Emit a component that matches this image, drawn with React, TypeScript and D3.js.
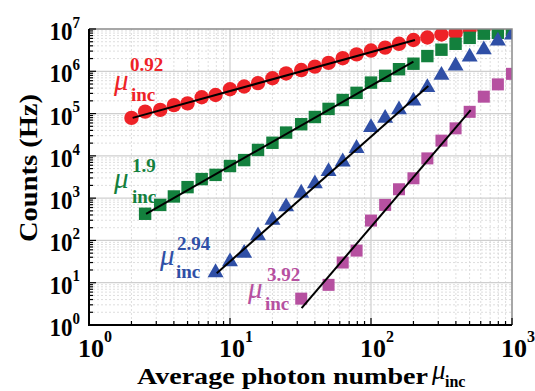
import * as d3 from 'd3';

// photon numbers at which the counts were sampled (0.1-decade steps)
const muValues = [2, 2.5, 3.2, 4, 5, 6.3, 7.9, 10, 12.6, 15.8, 20, 25, 32, 40, 50, 63, 79, 100, 126, 158, 200, 251, 316, 398, 501, 631, 794, 1000];

const redCounts = [7.9e4, 1.11e5, 1.22e5, 1.58e5, 1.74e5, 2.43e5, 2.75e5, 3.76e5, 4.37e5, 5.25e5, 6.84e5, 8.9e5, 1.07e6, 1.29e6, 1.58e6, 2.04e6, 2.51e6, 3.09e6, 3.63e6, 4.47e6, 5.5e6, 6.3e6, 7.4e6, 8.1e6, 9.8e6, 1.07e7, 1.15e7, 1.2e7];
const greenCounts = [427, 692, 1096, 1820, 2820, 3550, 5750, 7940, 1.38e4, 2.04e4, 3.55e4, 5.6e4, 8.3e4, 1.29e5, 2.09e5, 3.09e5, 5.4e5, 7.8e5, 1.12e6, 1.51e6, 2.29e6, 3.24e6, 4.47e6, 6.17e6, 7.76e6, 8.13e6, 9.5e6];
const blueCounts = [17.4, 31.6, 50, 129, 302, 631, 1318, 2190, 4270, 7240, 1.51e4, 4.68e4, 7.76e4, 1.23e5, 2.0e5, 4.17e5, 8.13e5, 1.35e6, 2.19e6, 3.24e6, 5.25e6, 7.24e6];
const magentaMu = [32, 50, 63, 79, 100, 126, 158, 200, 251, 316, 398, 501, 631, 794, 1000];
const magentaCounts = [4.2, 8.9, 30, 57.5, 295, 692, 1622, 2950, 8710, 2.29e4, 4.47e4, 1.1e5, 2.51e5, 4.9e5, 8.7e5];

// power-law fit end points [mu, counts]
const fitRed = [[2.04, 7.9e4], [205, 5.5e6]];
const fitGreen = [[2.54, 427], [200, 1.7e6]];
const fitBlue = [[8.05, 16.8], [255, 4.5e5]];
const fitMagenta = [[32.2, 2.5], [509, 1.2e5]];

const slopeLabels = ['0.92', '1.9', '2.94', '3.92'];
const xExps = [0, 1, 2, 3];
const yExps = [0, 1, 2, 3, 4, 5, 6, 7];

const RED = '#ee2227';
const GREEN = '#13803d';
const BLUE = '#2f4fa6';
const MAGENTA = '#b650a0';
const FONT = "'Liberation Serif', 'Times New Roman', serif";

export default function App() {
  const W = 535, H = 391;
  const L = 89, R = 512, T = 29, B = 325;

  const x = d3.scaleLog().domain([1, 1000]).range([L, R]);
  const y = d3.scaleLog().domain([1, 1e7]).range([B, T]);

  const isDecade = (v: number) => Math.abs(Math.log10(v) - Math.round(Math.log10(v))) < 1e-9;
  const xMinor = x.ticks().filter(v => !isDecade(v));
  const yMinor = y.ticks().filter(v => !isDecade(v));

  const line = d3.line<number[]>().x(d => x(d[0])).y(d => y(d[1]));
  const tri = d3.symbol().type(d3.symbolTriangle).size(110)() as string;

  // annotation anchors: mu glyph position, subscript/superscript
  const notes = [
    { color: RED, mx: 114, my: 90, ix: 131, iy: 101, sx: 130, sy: 71 },
    { color: GREEN, mx: 114, my: 188, ix: 132, iy: 203, sx: 132, sy: 172 },
    { color: BLUE, mx: 160, my: 265, ix: 176, iy: 278, sx: 177, sy: 250 },
    { color: MAGENTA, mx: 248, my: 298, ix: 265, iy: 310, sx: 267, sy: 281 },
  ];

  return (
    <div style={{ position: 'absolute', left: 0, top: 0 }}>
      <svg width={W} height={H} style={{ display: 'block', background: '#fff' }}>
        <defs>
          <clipPath id="plot">
            <rect x={L} y={T} width={R - L} height={B - T} />
          </clipPath>
        </defs>

        {/* minor grid */}
        <g stroke="#d6d6d6" strokeWidth={0.8} strokeDasharray="2,2">
          {xMinor.map((v, i) => <line key={'xm' + i} x1={x(v)} x2={x(v)} y1={T} y2={B} />)}
          {yMinor.map((v, i) => <line key={'ym' + i} x1={L} x2={R} y1={y(v)} y2={y(v)} />)}
        </g>
        {/* major grid */}
        <g stroke="#cfcfcf" strokeWidth={1.2}>
          {xExps.slice(1, -1).map(e => <line key={'xg' + e} x1={x(10 ** e)} x2={x(10 ** e)} y1={T} y2={B} />)}
          {yExps.slice(1, -1).map(e => <line key={'yg' + e} x1={L} x2={R} y1={y(10 ** e)} y2={y(10 ** e)} />)}
        </g>

        <g clipPath="url(#plot)">
          {redCounts.map((c, i) => <circle key={'r' + i} cx={x(muValues[i])} cy={y(c)} r={7.2} fill={RED} />)}
          {greenCounts.map((c, i) => (
            <rect key={'g' + i} x={x(muValues[i + 1]) - 6.2} y={y(c) - 6.2} width={12.4} height={12.4} fill={GREEN} />
          ))}
          {blueCounts.map((c, i) => (
            <path key={'b' + i} d={tri} transform={`translate(${x(muValues[i + 6])},${y(c)})`} fill={BLUE} />
          ))}
          {magentaCounts.map((c, i) => (
            <rect key={'m' + i} x={x(magentaMu[i]) - 6} y={y(c) - 6} width={12} height={12} fill={MAGENTA} />
          ))}
          {[fitRed, fitGreen, fitBlue, fitMagenta].map((f, i) => (
            <path key={'f' + i} d={line(f) as string} fill="none" stroke="#000" strokeWidth={2} />
          ))}
        </g>

        {/* frame */}
        <path d={`M${L},${T}H${R}V${B}`} fill="none" stroke="#8a8a8a" strokeWidth={1.5} />
        <path d={`M${L},${T}V${B}H${R}`} fill="none" stroke="#000" strokeWidth={2} />

        {/* ticks (inward) */}
        <g stroke="#000" strokeWidth={1.2}>
          {xMinor.map((v, i) => <line key={'xt' + i} x1={x(v)} x2={x(v)} y1={B} y2={B - 4} />)}
          {xExps.map(e => <line key={'xT' + e} x1={x(10 ** e)} x2={x(10 ** e)} y1={B} y2={B - 7} />)}
          {yMinor.map((v, i) => <line key={'yt' + i} x1={L} x2={L + 4} y1={y(v)} y2={y(v)} />)}
          {yExps.map(e => <line key={'yT' + e} x1={L} x2={L + 7} y1={y(10 ** e)} y2={y(10 ** e)} />)}
        </g>

        {/* tick labels */}
        <g fontFamily={FONT} fontWeight="bold" fill="#000">
          {yExps.map(e => (
            <text key={'yl' + e} transform={`translate(80,${y(10 ** e) + 11}) scale(1,1.12)`} textAnchor="end" fontSize={23}>
              10<tspan fontSize={15} dy={-11}>{e}</tspan>
            </text>
          ))}
          {xExps.map(e => (
            <text key={'xl' + e} x={x(10 ** e) + 6} y={357} textAnchor="middle" fontSize={26}>
              10<tspan fontSize={16} dy={-15}>{e}</tspan>
            </text>
          ))}
        </g>

        {/* axis titles */}
        <g fontFamily={FONT} fontWeight="bold" fill="#000">
          <text transform="translate(37,168) rotate(-90) scale(1.14,1)" textAnchor="middle" fontSize={25}>Counts (Hz)</text>
          <text x={137} y={384} fontSize={24} textLength={291} lengthAdjust="spacingAndGlyphs">
            Average photon number
          </text>
          <text x={432} y={379} fontSize={27} fontStyle="italic" fontWeight="normal">μ</text>
          <text x={445} y={387} fontSize={16}>inc</text>
        </g>

        {/* slope annotations */}
        <g fontFamily={FONT}>
          {notes.map((n, i) => (
            <g key={'n' + i} fill={n.color}>
              <text x={n.mx} y={n.my} fontSize={29} fontStyle="italic">μ</text>
              <text x={n.ix} y={n.iy} fontSize={19} fontWeight="bold">inc</text>
              <text x={n.sx} y={n.sy} fontSize={19} fontWeight="bold">{slopeLabels[i]}</text>
            </g>
          ))}
        </g>
      </svg>
    </div>
  );
}
